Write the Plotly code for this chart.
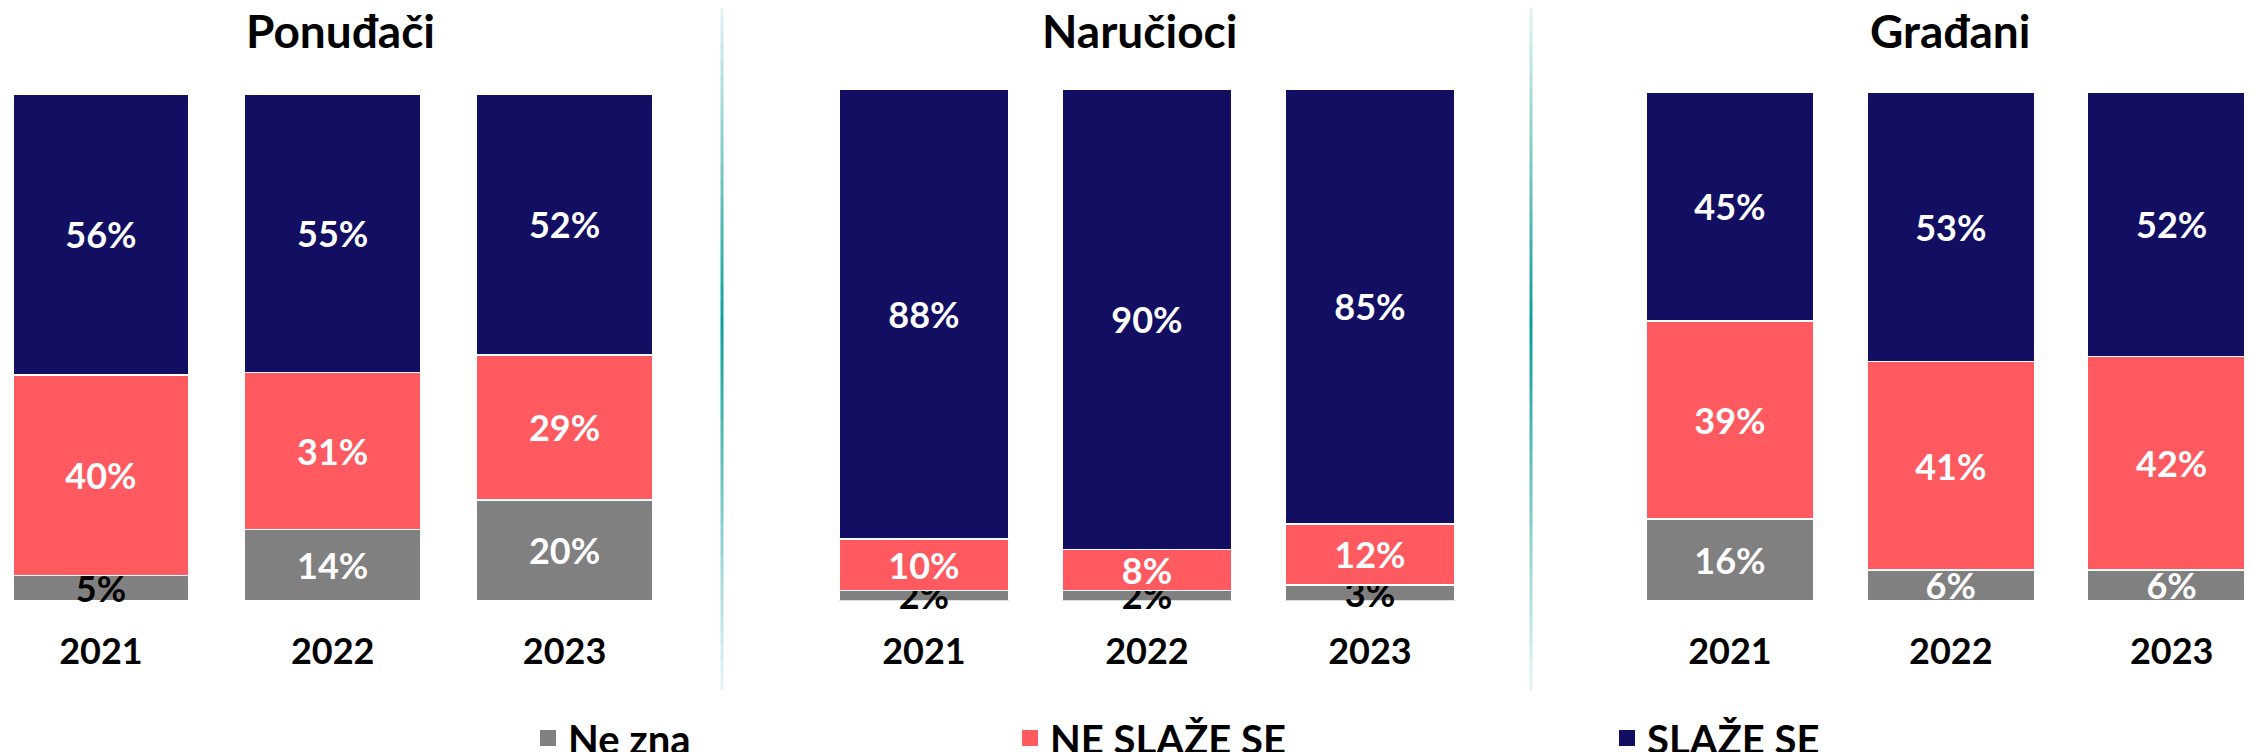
import plotly.graph_objects as go

# survey answers per group, in %
years = ["2021", "2022", "2023"]
groups = ["Ponuđači", "Naručioci", "Građani"]
series = ["Ne zna", "NE SLAŽE SE", "SLAŽE SE"]

ne_zna = {
    "Ponuđači": [5, 14, 20],
    "Naručioci": [2, 2, 3],
    "Građani": [16, 6, 6],
}
ne_slaze = {
    "Ponuđači": [40, 31, 29],
    "Naručioci": [10, 8, 12],
    "Građani": [39, 41, 42],
}
slaze = {
    "Ponuđači": [56, 55, 52],
    "Naručioci": [88, 90, 85],
    "Građani": [45, 53, 52],
}

# look (pixel positions are in figure space; the page adds an 8px body margin)
W, H = 2252, 752
FONT = "Lato"
colors = {"Ne zna": "#808080", "NE SLAŽE SE": "#FF5A5F", "SLAŽE SE": "#120F63"}
ne_zna_label_colors = {
    "Ponuđači": ["black", "white", "white"],
    "Naručioci": ["black", "black", "black"],
    "Građani": ["white", "white", "white"],
}
x_domains = [[0.0001, 0.2883], [0.3671, 0.6444], [0.7254, 1.0]]
x_ranges = [[-0.4, 2.4], [-0.4, 2.4], [-0.4, 2.4]]
y_domains = [[0.2121, 0.8856], [0.2121, 0.8923], [0.2121, 0.8883]]
title_x_px = [333, 1132, 1942]
divider_x_px = [714, 1523]

fig = go.Figure()

values = {"Ne zna": ne_zna, "NE SLAŽE SE": ne_slaze, "SLAŽE SE": slaze}

for i, g in enumerate(groups):
    ax = "" if i == 0 else str(i + 1)
    for s in series:
        vals = values[s][g]
        if s == "Ne zna":
            tcol = ne_zna_label_colors[g]
        else:
            tcol = ["white"] * len(vals)
        fig.add_trace(go.Bar(
            x=years, y=vals, name=s,
            xaxis="x" + ax, yaxis="y" + ax,
            marker=dict(color=colors[s], line=dict(color="white", width=1.5)),
            text=[f"{v}%" for v in vals],
            textposition="inside",
            insidetextanchor="middle",
            constraintext="none",
            textangle=0,
            textfont=dict(family=FONT, size=36, color=tcol, weight="bold"),
            cliponaxis=(g == "Građani" and s == "Ne zna"),
            showlegend=False,
            hoverinfo="skip",
        ))

# legend-only entries, one legend each so they sit where the original has them
legend_names = ["legend", "legend2", "legend3"]
for s, lg in zip(series, legend_names):
    fig.add_trace(go.Scatter(
        x=[None], y=[None], mode="markers", name=s,
        marker=dict(symbol="square", size=16, color=colors[s]),
        legend=lg, showlegend=True,
    ))

layout = dict(
    width=W, height=H,
    margin=dict(l=0, r=0, t=0, b=0, autoexpand=False),
    paper_bgcolor="white", plot_bgcolor="white",
    barmode="stack", barnorm="percent", bargap=0.24,
    font=dict(family=FONT, color="black"),
)

for i in range(3):
    ax = "" if i == 0 else str(i + 1)
    layout["xaxis" + ax] = dict(
        domain=x_domains[i], range=x_ranges[i], type="category",
        anchor="y" + ax, showgrid=False, zeroline=False, showline=False,
        ticks="", ticklabelstandoff=26, automargin=False,
        tickfont=dict(family=FONT, size=36, color="black", weight="bold"),
        fixedrange=True,
    )
    layout["yaxis" + ax] = dict(
        domain=y_domains[i], range=[0, 100], anchor="x" + ax,
        showgrid=False, zeroline=False, showline=False, showticklabels=False,
        automargin=False, fixedrange=True,
    )

legend_pos = [520, 1002, 1599]
for lg, px in zip(legend_names, legend_pos):
    layout[lg] = dict(
        x=px / W, y=22 / H, xanchor="left", yanchor="middle",
        orientation="h", bgcolor="rgba(0,0,0,0)",
        font=dict(family=FONT, size=40, color="black", weight="bold"),
    )

fig.update_layout(**layout)

for g, px in zip(groups, title_x_px):
    fig.add_annotation(
        text=g, x=px / W, y=1 - 22 / H, xref="paper", yref="paper",
        xanchor="center", yanchor="middle", showarrow=False,
        font=dict(family=FONT, size=46, color="black", weight="bold"),
    )

# thin teal dividers fading out at both ends
light = (232, 245, 245)
teal = (11, 158, 153)
top_px, bottom_px, peak_px = -8, 682, 315
steps = 46
for dx in divider_x_px:
    for k in range(steps):
        y0 = top_px + (bottom_px - top_px) * k / steps
        y1 = top_px + (bottom_px - top_px) * (k + 1) / steps
        mid = (y0 + y1) / 2
        span = (peak_px - top_px) if mid < peak_px else (bottom_px - peak_px)
        t = max(0.0, 1 - abs(mid - peak_px) / span)
        c = tuple(round(light[j] + (teal[j] - light[j]) * t) for j in range(3))
        fig.add_shape(
            type="line", xref="paper", yref="paper",
            x0=dx / W, x1=dx / W, y0=1 - y0 / H, y1=1 - y1 / H,
            line=dict(color=f"rgb{c}", width=3),
        )

fig.write_html("out.html")
